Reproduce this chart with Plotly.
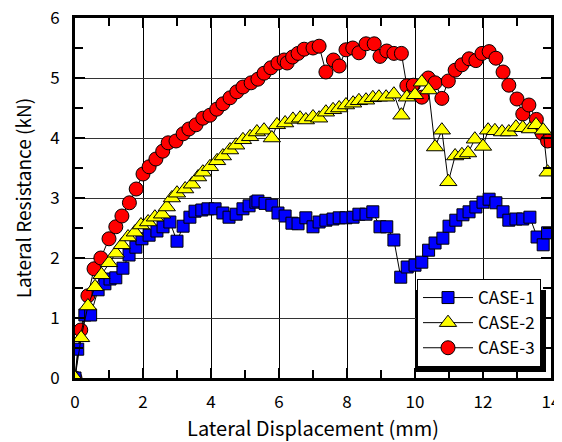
import plotly.graph_objects as go

# CASE-1 (blue squares)
case1_x = [0.0, 0.08, 0.29, 0.46, 0.68, 0.88, 1.03, 1.2, 1.41, 1.59, 1.79, 1.97, 2.18, 2.41, 2.59, 2.79,
           3.0, 3.18, 3.38, 3.53, 3.73, 3.91, 4.12, 4.35, 4.53, 4.74, 4.94, 5.12, 5.32, 5.38, 5.59, 5.79,
           5.97, 6.18, 6.38, 6.56, 6.79, 7.0, 7.18, 7.38, 7.59, 7.77, 7.97, 8.18, 8.35, 8.56, 8.76, 8.97,
           9.17, 9.38, 9.58, 9.77, 10.0, 10.2, 10.4, 10.59, 10.82, 11.0, 11.2, 11.41, 11.59, 11.79, 12.0,
           12.18, 12.38, 12.59, 12.76, 12.97, 13.17, 13.38, 13.59, 13.77, 13.9]
case1_y = [0.0, 0.48, 1.05, 1.05, 1.47, 1.57, 1.65, 1.67, 1.83, 2.05, 2.18, 2.32, 2.38, 2.45, 2.52, 2.6,
           2.28, 2.53, 2.68, 2.78, 2.8, 2.82, 2.82, 2.75, 2.68, 2.73, 2.82, 2.87, 2.93, 2.95, 2.91, 2.88,
           2.75, 2.7, 2.58, 2.57, 2.67, 2.52, 2.6, 2.63, 2.65, 2.67, 2.67, 2.68, 2.73, 2.73, 2.77, 2.52,
           2.52, 2.3, 1.68, 1.85, 1.88, 1.93, 2.13, 2.25, 2.33, 2.53, 2.63, 2.72, 2.77, 2.85, 2.93,
           2.98, 2.92, 2.77, 2.63, 2.65, 2.65, 2.68, 2.35, 2.22, 2.42]

# CASE-2 (yellow triangles)
case2_x = [0.0, 0.18, 0.38, 0.59, 0.78, 1.0, 1.2, 1.38, 1.56, 1.76, 1.94, 2.15, 2.35, 2.56, 2.7, 2.85,
           3.0, 3.24, 3.44, 3.62, 3.76, 3.97, 4.18, 4.35, 4.56, 4.74, 4.94, 5.15, 5.35, 5.56, 5.79, 5.94,
           6.18, 6.41, 6.62, 6.79, 7.0, 7.18, 7.38, 7.59, 7.77, 7.97, 8.18, 8.35, 8.56, 8.76, 8.94, 9.15,
           9.38, 9.6, 9.76, 10.0, 10.2, 10.4, 10.59, 10.79, 10.98, 11.18, 11.38, 11.56, 11.76, 12.0,
           12.15, 12.35, 12.56, 12.76, 12.97, 13.17, 13.38, 13.56, 13.77, 13.9]
case2_y = [0.0, 0.67, 1.2, 1.52, 1.72, 1.92, 2.08, 2.22, 2.35, 2.43, 2.55, 2.6, 2.68, 2.73, 2.85, 3.0,
           3.08, 3.15, 3.23, 3.35, 3.43, 3.52, 3.62, 3.7, 3.8, 3.88, 3.97, 4.02, 4.1, 4.13, 4.0, 4.22,
           4.25, 4.31, 4.33, 4.3, 4.35, 4.33, 4.43, 4.47, 4.5, 4.55, 4.58, 4.62, 4.63, 4.67, 4.68, 4.68,
           4.73, 4.38, 4.68, 4.72, 4.93, 4.8, 3.85, 4.13, 3.27, 3.7, 3.72, 3.75, 3.98, 3.86,
           4.13, 4.12, 4.1, 4.1, 4.18, 4.17, 4.15, 4.22, 4.13, 3.43]

# CASE-3 (red circles)
case3_x = [0.0, 0.17, 0.38, 0.56, 0.76, 1.0, 1.2, 1.38, 1.6, 1.8, 2.0, 2.18, 2.38, 2.58, 2.74, 2.97,
           3.18, 3.35, 3.56, 3.76, 3.97, 4.17, 4.35, 4.56, 4.76, 4.94, 5.18, 5.38, 5.56, 5.76, 5.97, 6.15,
           6.24, 6.4, 6.56, 6.74, 7.0, 7.18, 7.38, 7.6, 7.77, 7.97, 8.17, 8.35, 8.56, 8.8, 8.97, 9.17,
           9.38, 9.6, 9.76, 9.95, 10.2, 10.39, 10.59, 10.79, 10.98, 11.18, 11.38, 11.59, 11.79, 11.97,
           12.18, 12.38, 12.59, 12.76, 13.0, 13.17, 13.35, 13.57, 13.74, 13.9]
case3_y = [0.0, 0.8, 1.37, 1.82, 2.0, 2.32, 2.52, 2.7, 2.92, 3.15, 3.4, 3.52, 3.65, 3.78, 3.92, 3.95,
           4.07, 4.15, 4.22, 4.33, 4.38, 4.48, 4.57, 4.67, 4.77, 4.85, 4.92, 4.98, 5.08, 5.17, 5.25, 5.3,
           5.25, 5.35, 5.41, 5.48, 5.5, 5.53, 5.1, 5.3, 5.2, 5.47, 5.5, 5.42, 5.57, 5.57, 5.36, 5.45,
           5.41, 5.41, 4.87, 4.88, 4.68, 5.0, 4.92, 4.66, 4.95, 5.13, 5.22, 5.32, 5.29, 5.41,
           5.44, 5.33, 5.1, 4.88, 4.65, 4.4, 4.55, 4.31, 4.08, 3.95]

FONT = "Noto Sans CJK JP"

fig = go.Figure()
fig.add_trace(go.Scatter(x=case3_x, y=case3_y, mode="lines+markers", name="CASE-3", legendrank=3,
                         line=dict(color="black", width=1),
                         marker=dict(symbol="circle", size=14, color="#ff0000",
                                     line=dict(color="black", width=1))))
fig.add_trace(go.Scatter(x=case1_x, y=case1_y, mode="lines+markers", name="CASE-1", legendrank=1,
                         line=dict(color="black", width=1),
                         marker=dict(symbol="square", size=12, color="#0000ff",
                                     line=dict(color="black", width=1))))
fig.add_trace(go.Scatter(x=case2_x, y=case2_y, mode="lines+markers", name="CASE-2", legendrank=2,
                         line=dict(color="black", width=1),
                         marker=dict(symbol="triangle-up", size=15, color="#ffff00",
                                     line=dict(color="black", width=1))))

# legend shadow (paper coords; plot area 476 x 360 px)
fig.add_shape(type="rect", xref="paper", yref="paper",
              x0=(416 - 75) / 476, x1=(546 - 75) / 476,
              y0=(378 - 372) / 360, y1=(378 - 290) / 360,
              fillcolor="black", line=dict(width=0), layer="above")

# The page body has an 8px default margin, so the figure is shrunk by 8px and margins shifted.
fig.update_layout(
    width=554, height=434,
    margin=dict(l=67, r=11, t=10, b=64, autoexpand=False),
    paper_bgcolor="white", plot_bgcolor="white",
    font=dict(family=FONT, size=18, color="black"),
    showlegend=True,
    legend=dict(x=(541 - 75) / 476, y=(378 - 367) / 360, xanchor="right", yanchor="bottom",
                bgcolor="white", bordercolor="black", borderwidth=1,
                font=dict(family=FONT, size=17), tracegroupgap=0, itemwidth=50),
    xaxis=dict(range=[0, 14], dtick=2, tick0=0, showgrid=True, gridcolor="black", gridwidth=1,
               ticks="inside", ticklen=10, tickwidth=2, tickcolor="black", automargin=False,
               minor=dict(dtick=1, ticks="inside", ticklen=8, tickwidth=2, tickcolor="black", showgrid=False),
               showline=True, linecolor="black", linewidth=3, mirror="allticks", zeroline=False,
               title=dict(text="Lateral Displacement (mm)", font=dict(family=FONT, size=20), standoff=6),
               tickfont=dict(family=FONT, size=17), ticklabelstandoff=7, ticklabeloverflow="allow"),
    yaxis=dict(range=[0, 6], dtick=1, tick0=0, showgrid=True, gridcolor="#333333", gridwidth=1,
               ticks="inside", ticklen=10, tickwidth=2, tickcolor="black", automargin=False,
               minor=dict(dtick=0.5, ticks="inside", ticklen=8, tickwidth=2, tickcolor="black", showgrid=False),
               showline=True, linecolor="black", linewidth=3, mirror="allticks", zeroline=False,
               title=dict(text="Lateral Resistance (kN)", font=dict(family=FONT, size=19), standoff=14),
               tickfont=dict(family=FONT, size=17), ticklabelstandoff=9, ticklabeloverflow="allow"),
)

fig.write_html("out.html")
